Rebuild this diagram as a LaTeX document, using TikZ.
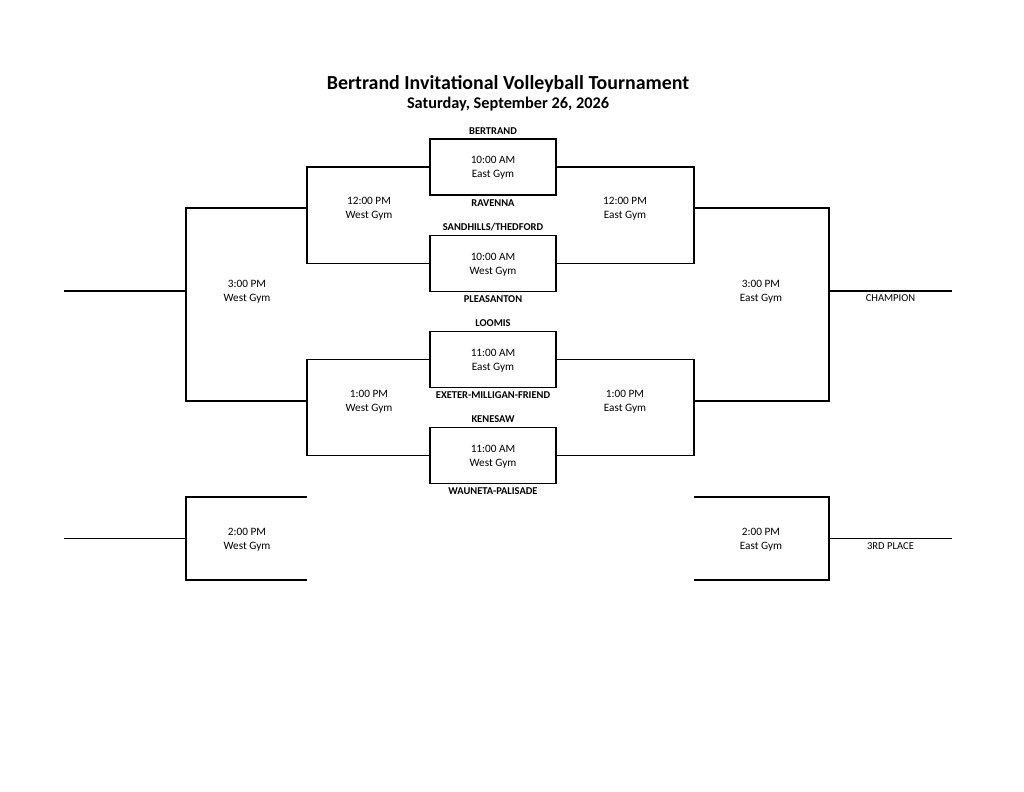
\documentclass[tikz,border=0pt]{standalone}
\usepackage{fontspec}
\setmainfont{Carlito}
\usetikzlibrary{positioning}

\tikzset{
  game/.style={draw, line width=1.2pt, minimum width=97.4pt, minimum height=43.3pt, text depth=0pt, align=center, font=\fontsize{8.7}{10.8}\selectfont},
  slot/.style={align=center, text depth=0pt, font=\fontsize{8.7}{10.8}\selectfont},
  team/.style={inner sep=1pt, font=\bfseries\fontsize{8.1}{9}\selectfont},
  place/.style={below, inner sep=2.5pt, font=\fontsize{8.2}{9}\selectfont},
  bracket/.style={line width=1.2pt}
}

\begin{document}
\begin{tikzpicture}[x=0.7734pt,y=-0.7734pt]
\useasboundingbox (0,0) rectangle (1024,791);
    \node[font=\bfseries\fontsize{15.4}{18}\selectfont] (title) at (508,84) {Bertrand Invitational Volleyball Tournament};
    \node[font=\bfseries\fontsize{12.6}{15}\selectfont] (date) at (508,104.5) {Saturday, September 26, 2026};

    \node[game] (g1) at (493,167) {10:00 AM\\East Gym};
    \node[game] (g2) at (493,263.5) {10:00 AM\\West Gym};
    \node[game] (g3) at (493,359.5) {11:00 AM\\East Gym};
    \node[game] (g4) at (493,455.5) {11:00 AM\\West Gym};

    \node[team, above=2pt of g1] {BERTRAND};
    \node[team, below=1.5pt of g1] {RAVENNA};
    \node[team, above=2pt of g2] {SANDHILLS/THEDFORD};
    \node[team, below=1.5pt of g2] {PLEASANTON};
    \node[team, above=2pt of g3] {LOOMIS};
    \node[team, below=1.5pt of g3] {EXETER-MILLIGAN-FRIEND};
    \node[team, above=2pt of g4] {KENESAW};
    \node[team, below=1.5pt of g4] {WAUNETA-PALISADE};

    \coordinate (lw12) at (307,208);
    \coordinate (lw1) at (307,401);
    \coordinate (lw3) at (186,291);
    \coordinate (lwout) at (64,291);
    \coordinate (rw12) at (694,208);
    \coordinate (rw1) at (694,401);
    \coordinate (rw3) at (829,291);
    \coordinate (rwout) at (952,291);

    \draw[bracket] (g1.west) -| (lw12) |- (g2.west);
    \draw[bracket] (g3.west) -| (lw1) |- (g4.west);
    \draw[bracket] (g1.east) -| (rw12) |- (g2.east);
    \draw[bracket] (g3.east) -| (rw1) |- (g4.east);
    \draw[bracket] (lw12) -| (lw3) |- (lw1);
    \draw[bracket] (rw12) -| (rw3) |- (rw1);
    \draw[bracket] (lw3) -- (lwout);
    \draw[bracket] (rw3) -- node[place] {CHAMPION} (rwout);

    \node[slot] (t12l) at (369,208) {12:00 PM\\West Gym};
    \node[slot] (t12r) at (625,208) {12:00 PM\\East Gym};
    \node[slot] (t1l) at (369,401) {1:00 PM\\West Gym};
    \node[slot] (t1r) at (625,401) {1:00 PM\\East Gym};
    \node[slot] (t3l) at (247,291) {3:00 PM\\West Gym};
    \node[slot] (t3r) at (761,291) {3:00 PM\\East Gym};

    % consolation games
    \coordinate (lc1) at (307,497);
    \coordinate (lc2) at (307,580);
    \coordinate (lc) at (186,538.5);
    \coordinate (lcout) at (64,538.5);
    \coordinate (rc1) at (694,497);
    \coordinate (rc2) at (694,580);
    \coordinate (rc) at (829,538.5);
    \coordinate (rcout) at (952,538.5);

    \draw[bracket] (lc1) -| (lc) |- (lc2);
    \draw[bracket] (rc1) -| (rc) |- (rc2);
    \draw[bracket] (lc) -- (lcout);
    \draw[bracket] (rc) -- node[place] {3RD PLACE} (rcout);

    \node[slot] (t2l) at (247,538.5) {2:00 PM\\West Gym};
    \node[slot] (t2r) at (761,538.5) {2:00 PM\\East Gym};
\end{tikzpicture}
\end{document}
